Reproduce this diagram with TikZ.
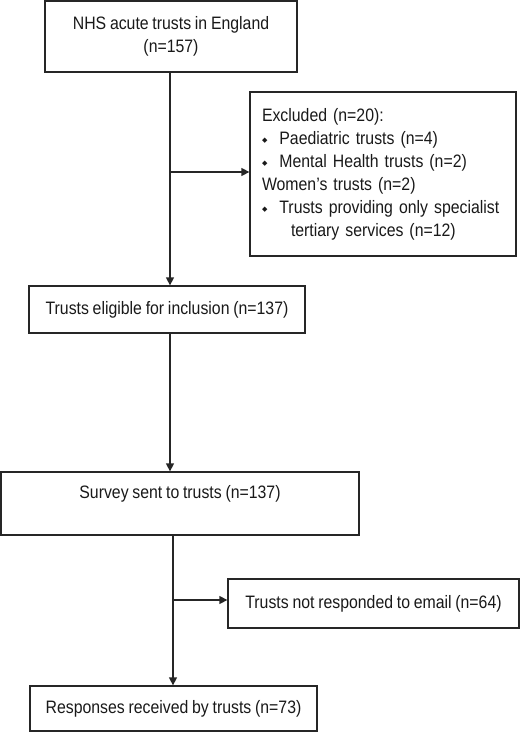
\documentclass[tikz,border=0pt]{standalone}
\usepackage{fontspec}
\setmainfont{Liberation Sans}[FakeStretch=0.88,WordSpace=0.85]
\newfontfamily\bulletfont{DejaVu Sans}
\usetikzlibrary{arrows.meta,positioning}
\newcommand{\bul}{{\bulletfont\fontsize{7}{7}\selectfont\raisebox{2pt}{◆}}}

\begin{document}
\begin{tikzpicture}[x=1pt,y=-1pt,
  box/.style={draw=black!85,line width=1.3pt,inner sep=0pt,align=center,
    text=black!90,font=\fontsize{18}{23}\selectfont},
  arr/.style={draw=black!85,line width=1.4pt,-{Triangle[length=8pt,width=8pt]}}]

  \useasboundingbox (0,0) rectangle (520,733);

  \node[box,minimum width=252pt,minimum height=71pt] (nhs) at (171,36.5)
    {NHS acute trusts in England\\(n=157)};
  \node[box,minimum width=266pt,minimum height=164pt,align=left,
        text width=242pt,inner xsep=12pt] (excl) at (383,174)
    {Excluded (n=20):\\
     \bul\ \ Paediatric trusts (n=4)\\
     \bul\ \ Mental Health trusts (n=2)\\
     Women's trusts (n=2)\\
     \bul\ \ Trusts providing only specialist\\
     \hspace{29pt}tertiary services (n=12)};
  \node[box,minimum width=276pt,minimum height=47pt] (elig) at (167,309.5)
    {Trusts eligible for inclusion (n=137)};
  \node[box,minimum width=358pt,minimum height=63pt,text depth=23pt] (survey) at (180,503.5)
    {Survey sent to trusts (n=137)};
  \node[box,minimum width=291pt,minimum height=49pt] (noresp) at (373.5,603.5)
    {Trusts not responded to email (n=64)};
  \node[box,minimum width=287pt,minimum height=45pt] (resp) at (173.5,708.5)
    {Responses received by trusts (n=73)};

  \coordinate (trunk) at (170,0);
  \coordinate (split1) at (trunk |- 0,172);
  \coordinate (split2) at (173,600);

  \draw[arr] (trunk |- nhs.south) -- (trunk |- elig.north);
  \draw[arr] (split1) -- (excl.west |- split1);
  \draw[arr] (trunk |- elig.south) -- (trunk |- survey.north);
  \draw[arr] (split2 |- survey.south) -- (split2 |- resp.north);
  \draw[arr] (split2) -- (noresp.west |- split2);

\end{tikzpicture}
\end{document}
